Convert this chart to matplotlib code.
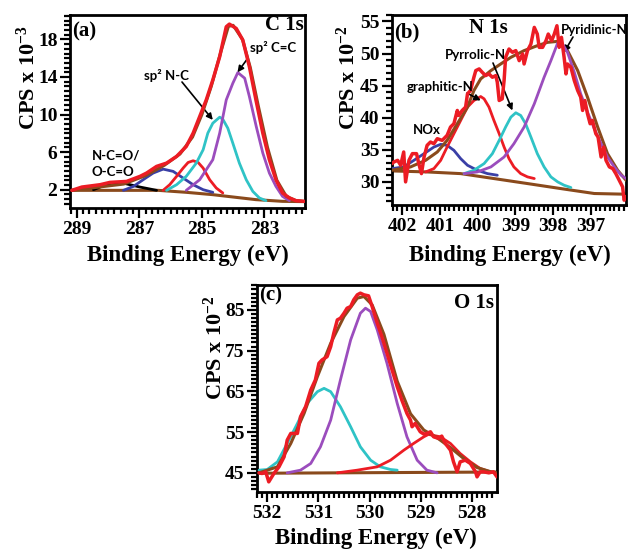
import matplotlib
matplotlib.use('Agg')
import matplotlib.pyplot as plt
import numpy as np
from matplotlib.ticker import FixedLocator, MultipleLocator

plt.rcParams['font.family'] = ['Liberation Serif', 'DejaVu Serif']
plt.rcParams['font.weight'] = 'bold'
plt.rcParams['mathtext.fontset'] = 'custom'
plt.rcParams['mathtext.rm'] = 'Liberation Serif:bold'
plt.rcParams['mathtext.it'] = 'Liberation Serif:bold'
plt.rcParams['mathtext.bf'] = 'Liberation Serif:bold'

RED = '#ec1c24'
PURPLE = '#9b4dbd'
CYAN = '#2fc3c6'
BLUE = '#3a3fa6'
BROWN = '#8a4a1c'
BLACK = '#000000'

# ---------------- Panel (a) C 1s (CPS x 10^-3) ----------------
A_XTICKS = [289, 287, 285, 283]
A_YTICKS = [2, 6, 10, 14, 18]
A_ENV = [(289.16, 1.93), (288.84, 2.28), (288.26, 2.53), (287.94, 2.78), (287.41, 2.88),
         (286.98, 3.42), (286.77, 3.77), (286.45, 4.48), (286.13, 4.83), (285.81, 5.54),
         (285.5, 6.6), (285.28, 8.02), (285.07, 9.79), (284.86, 11.56), (284.65, 13.68),
         (284.43, 16.16), (284.22, 19.35), (284.12, 19.63), (283.9, 19.17), (283.69, 17.93),
         (283.48, 15.1), (283.27, 11.56), (283.05, 8.02), (282.84, 5.19), (282.63, 3.06),
         (282.42, 1.65), (282.2, 1.12), (281.99, 0.83), (281.73, 0.76)]
A_FIT = [(289.16, 1.93), (287.5, 2.6), (286.8, 3.5), (286.2, 4.6), (285.7, 5.8), (285.3, 7.6),
         (285.0, 10.0), (284.7, 13.0), (284.4, 16.6), (284.15, 19.4), (284.0, 19.5),
         (283.7, 18.0), (283.45, 15.0), (283.2, 11.0), (282.9, 6.5), (282.6, 3.0),
         (282.3, 1.3), (282.0, 0.85), (281.73, 0.75)]
A_BASE = [(289.16, 1.93), (286.4, 1.93), (285.5, 1.72), (284.65, 1.47), (284.0, 1.22),
          (283.27, 0.94), (282.42, 0.76), (281.73, 0.73)]
A_CC = [(285.5, 1.93), (285.07, 3.06), (284.65, 5.19), (284.43, 8.02), (284.22, 11.56),
        (284.01, 13.33), (283.85, 14.47), (283.63, 13.87), (283.48, 11.92), (283.26, 8.73),
        (283.05, 5.9), (282.84, 3.77), (282.63, 2.36), (282.42, 1.29), (282.2, 0.83)]
A_NC = [(286.13, 1.93), (285.81, 2.53), (285.5, 3.42), (285.18, 4.83), (284.96, 6.25),
        (284.81, 8.02), (284.65, 9.08), (284.43, 9.72), (284.33, 9.5), (284.17, 8.55),
        (284.01, 6.96), (283.8, 4.83), (283.58, 3.06), (283.37, 1.82), (283.16, 1.12),
        (282.95, 0.83)]
A_CO = [(286.24, 1.93), (286.03, 2.53), (285.81, 3.42), (285.6, 4.3), (285.44, 4.9),
        (285.28, 5.08), (285.12, 4.9), (284.96, 4.3), (284.75, 3.06), (284.54, 2.18),
        (284.33, 1.65)]
A_CN = [(287.51, 1.93), (287.19, 2.35), (286.88, 3.06), (286.56, 3.77), (286.24, 4.19),
        (285.92, 3.95), (285.6, 3.24), (285.28, 2.53), (284.96, 2.0), (284.65, 1.72)]
A_OCO = [(288.47, 2.0), (288.15, 2.42), (287.83, 2.71), (287.62, 2.78), (287.3, 2.53),
         (286.98, 2.28), (286.66, 2.07), (286.45, 1.93)]

# ---------------- Panel (b) N 1s (CPS x 10^-2) ----------------
B_XTICKS = [402, 401, 400, 399, 398, 397]
B_YTICKS = [30, 35, 40, 45, 50, 55]
B_ENV = [(402.27, 32.85), (402.22, 33.1), (402.12, 33.36), (402.04, 32.59), (401.96, 34.66),
         (401.91, 30.0), (401.82, 33.36), (401.73, 34.4), (401.62, 34.4), (401.56, 32.85),
         (401.49, 31.29), (401.42, 33.88), (401.34, 35.69), (401.25, 36.21), (401.16, 35.95),
         (401.07, 36.73), (400.94, 36.47), (400.81, 37.25), (400.72, 38.54), (400.63, 39.06),
         (400.54, 41.13), (400.5, 40.35), (400.41, 41.13), (400.32, 41.65), (400.27, 43.72),
         (400.19, 44.23), (400.1, 46.3), (400.05, 47.34), (399.96, 47.6), (399.88, 47.08),
         (399.79, 46.56), (399.7, 46.82), (399.61, 46.3), (399.52, 46.56), (399.48, 45.53),
         (399.43, 42.68), (399.35, 42.94), (399.3, 45.79), (399.26, 49.41), (399.17, 50.7),
         (399.08, 50.19), (398.99, 50.45), (398.9, 48.89), (398.81, 49.93), (398.77, 48.37),
         (398.68, 50.45), (398.59, 51.48), (398.5, 54.07), (398.42, 53.03), (398.37, 50.96),
         (398.28, 50.96), (398.19, 52.0), (398.13, 53.03), (398.04, 52.0), (397.97, 53.03),
         (397.9, 54.33), (397.84, 50.96), (397.78, 52.52), (397.71, 49.41), (397.66, 46.82),
         (397.62, 48.37), (397.53, 47.86), (397.44, 45.79), (397.35, 44.23), (397.27, 43.2),
         (397.22, 41.13), (397.16, 42.68), (397.09, 40.61), (397.02, 39.06), (396.96, 39.58),
         (396.87, 37.51), (396.81, 36.99), (396.73, 33.88), (396.66, 35.43), (396.6, 33.36),
         (396.51, 32.33), (396.42, 32.07), (396.34, 31.29), (396.25, 30.26), (396.16, 29.22),
         (396.12, 27.15), (396.07, 27.67)]
B_FIT = [(402.27, 31.81), (401.78, 32.33), (401.38, 33.36), (401.07, 34.66), (400.81, 36.47),
         (400.54, 39.06), (400.27, 41.65), (400.1, 44.23), (399.92, 46.05), (399.65, 47.34),
         (399.39, 48.37), (399.12, 49.41), (398.77, 50.45), (398.42, 51.22), (398.15, 51.74),
         (397.88, 51.89), (397.62, 50.45), (397.35, 47.34), (397.09, 43.2), (396.82, 38.54),
         (396.56, 34.4), (396.29, 31.81), (396.07, 30.26)]
B_BASE = [(402.27, 31.71), (401.34, 31.55), (400.45, 31.29), (399.57, 30.52), (398.68, 29.74),
          (397.8, 28.96), (396.91, 28.19), (396.07, 28.08)]
B_PYRIDINIC = [(400.36, 31.29), (400.01, 31.55), (399.65, 32.33), (399.3, 33.88), (399.04, 35.95),
               (398.77, 38.54), (398.5, 42.16), (398.24, 46.3), (398.06, 48.89), (397.88, 51.64),
               (397.75, 51.48), (397.62, 50.19), (397.44, 47.08), (397.27, 43.72), (397.09, 40.87),
               (396.91, 38.28), (396.73, 35.95), (396.56, 33.88), (396.38, 32.33), (396.2, 31.04),
               (396.07, 30.52)]
B_PYRROLIC = [(400.36, 31.29), (400.1, 31.81), (399.83, 32.85), (399.61, 34.4), (399.43, 36.47),
              (399.26, 38.54), (399.12, 40.09), (398.99, 40.77), (398.86, 40.35), (398.73, 39.06),
              (398.59, 36.99), (398.42, 34.4), (398.24, 32.33), (398.06, 30.78), (397.88, 30.0),
              (397.71, 29.48), (397.53, 29.12)]
B_GRAPHITIC = [(401.38, 31.55), (401.16, 32.07), (400.98, 33.36), (400.81, 35.43), (400.63, 37.51),
               (400.45, 39.58), (400.27, 41.65), (400.1, 42.68), (399.92, 43.3), (399.83, 42.94),
               (399.7, 41.65), (399.57, 39.58), (399.43, 37.51), (399.3, 35.43), (399.17, 33.62),
               (399.04, 32.33), (398.86, 31.29), (398.68, 30.78), (398.5, 30.52)]
B_NOX = [(402.27, 32.07), (401.96, 32.33), (401.69, 33.36), (401.42, 34.4), (401.16, 35.43),
         (400.98, 35.85), (400.81, 35.69), (400.63, 34.92), (400.45, 33.62), (400.27, 32.59),
         (400.01, 31.81), (399.74, 31.29), (399.48, 31.04)]

# ---------------- Panel (c) O 1s (CPS x 10^-2) ----------------
C_XTICKS = [532, 531, 530, 529, 528]
C_YTICKS = [45, 55, 65, 75, 85]
C_ENV = [(532.16, 45.0), (532.1, 44.84), (532.03, 45.25), (531.97, 42.79), (531.87, 44.84),
         (531.77, 46.48), (531.67, 48.93), (531.61, 53.03), (531.54, 54.67), (531.41, 54.67),
         (531.35, 58.77), (531.25, 61.23), (531.15, 65.33), (531.06, 67.79), (530.99, 71.89),
         (530.93, 72.7), (530.83, 73.52), (530.76, 75.98), (530.7, 79.26), (530.63, 82.54),
         (530.57, 82.95), (530.5, 84.18), (530.44, 85.41), (530.37, 85.82), (530.31, 87.46),
         (530.24, 88.69), (530.18, 89.1), (530.11, 88.69), (530.02, 88.44), (529.95, 85.82),
         (529.85, 81.72), (529.76, 78.44), (529.66, 74.34), (529.56, 70.25), (529.46, 66.15),
         (529.37, 62.87), (529.27, 59.59), (529.2, 57.95), (529.17, 56.31), (529.11, 57.13),
         (529.01, 55.08), (528.94, 54.51), (528.88, 54.67), (528.81, 55.08), (528.75, 53.85),
         (528.65, 53.44), (528.59, 54.02), (528.52, 52.21), (528.42, 50.57), (528.36, 47.7),
         (528.29, 45.25), (528.23, 47.7), (528.13, 48.11), (528.03, 47.3), (527.93, 45.25),
         (527.9, 44.02), (527.84, 45.25), (527.77, 45.25), (527.67, 45.0), (527.58, 45.25),
         (527.51, 44.02)]
C_FIT = [(532.16, 45.0), (531.8, 46.48), (531.54, 52.21), (531.28, 59.59), (531.02, 68.61),
         (530.76, 76.8), (530.5, 83.36), (530.24, 87.87), (530.11, 88.28), (529.95, 86.23),
         (529.72, 79.0), (529.46, 67.5), (529.2, 59.5), (528.94, 55.5), (528.68, 53.6),
         (528.42, 51.2), (528.16, 48.5), (527.9, 46.3), (527.64, 45.3), (527.51, 45.0)]
C_BASE = [(532.2, 44.9), (527.5, 45.2)]
C_PEAK1 = [(532.16, 45.66), (532.0, 45.82), (531.8, 47.7), (531.61, 52.21), (531.41, 57.13),
           (531.22, 62.05), (531.02, 64.92), (530.89, 65.74), (530.76, 64.92), (530.57, 61.23),
           (530.37, 56.31), (530.18, 51.39), (529.98, 48.11), (529.79, 46.48), (529.59, 45.82),
           (529.46, 45.66)]
C_PEAK2 = [(531.61, 45.0), (531.35, 45.66), (531.15, 47.3), (530.96, 51.39), (530.76, 57.95),
           (530.57, 67.79), (530.37, 77.62), (530.18, 84.18), (530.08, 85.41), (529.98, 84.59),
           (529.85, 80.08), (529.66, 71.89), (529.46, 62.05), (529.27, 53.85), (529.07, 48.11),
           (528.88, 45.66), (528.68, 45.0)]
C_PEAK3 = [(530.63, 45.0), (530.24, 45.66), (529.85, 46.48), (529.59, 48.11), (529.33, 50.57),
           (529.14, 52.21), (528.94, 53.85), (528.85, 54.43), (528.62, 53.85), (528.42, 52.21),
           (528.23, 49.75), (528.03, 47.7), (527.84, 46.07), (527.64, 45.25)]

W, H = 628, 550
fig = plt.figure(figsize=(6.28, 5.5), dpi=100)


def frame(l, t, r, b):
    return [l / W, 1 - b / H, (r - l) / W, (b - t) / H]


def fx(px):
    return px / W


def fy(py):
    return 1 - py / H


def style(ax, xlim, ylim, xt, yt, xminor, yminor):
    ax.set_xlim(*xlim)
    ax.set_ylim(*ylim)
    ax.xaxis.set_major_locator(FixedLocator(xt))
    ax.set_xticklabels([str(v) for v in xt])
    ax.yaxis.set_major_locator(FixedLocator(yt))
    ax.set_yticklabels([str(v) for v in yt])
    ax.xaxis.set_minor_locator(MultipleLocator(xminor))
    ax.yaxis.set_minor_locator(MultipleLocator(yminor))
    ax.tick_params(which='both', direction='out', top=False, right=False, width=1.6,
                   labelsize=14, pad=2)
    ax.tick_params(which='major', length=7)
    ax.tick_params(which='minor', length=4)
    for s in ax.spines.values():
        s.set_linewidth(2)


def line(ax, pts, color, lw, z):
    arr = np.array(pts)
    ax.plot(arr[:, 0], arr[:, 1], color=color, lw=lw, zorder=z,
            solid_joinstyle='round', solid_capstyle='round')


ann_font = dict(family=['Lato', 'DejaVu Sans'], fontweight='bold', fontsize=9.5, color='black')
arrow_kw = dict(arrowstyle='-|>', color='black', lw=1.2, mutation_scale=9,
                shrinkA=0, shrinkB=0)

# Panel (a)
axA = fig.add_axes(frame(70, 15, 305, 208))
style(axA, (289.22, 281.7), (0.05, 20.6), A_XTICKS, A_YTICKS, 0.2, 0.5)
line(axA, A_BASE, BROWN, 2.2, 2)
line(axA, A_OCO, BLACK, 2.0, 3)
line(axA, A_CN, BLUE, 2.0, 3)
line(axA, A_CO, RED, 2.0, 3)
line(axA, A_NC, CYAN, 2.0, 3)
line(axA, A_CC, PURPLE, 2.0, 3)
line(axA, A_FIT, BROWN, 2.2, 4)
line(axA, A_ENV, RED, 2.5, 5)
fig.text(fx(84), fy(31), '(a)', fontsize=15, fontweight='bold', ha='center', va='center')
fig.text(fx(304), fy(25), 'C 1s', fontsize=15, fontweight='bold', ha='right', va='center')
fig.text(fx(273), fy(47), 'sp² C=C', ha='center', va='center', **ann_font)
axA.annotate('', xy=(283.86, 14.5), xycoords='data', xytext=(fx(248), fy(58)),
             textcoords='figure fraction', arrowprops=arrow_kw)
fig.text(fx(166), fy(75), 'sp² N-C', ha='center', va='center', **ann_font)
axA.annotate('', xy=(284.65, 9.43), xycoords='data', xytext=(fx(182), fy(82)),
             textcoords='figure fraction', arrowprops=arrow_kw)
fig.text(fx(92), fy(164), 'N-C=O/\nO-C=O', ha='left', va='center', linespacing=1.5, **ann_font)
fig.text(fx(28), fy(78), 'CPS x 10$^{-3}$', rotation=90, fontsize=16, fontweight='bold',
         ha='center', va='center')
fig.text(fx(188), fy(255), 'Binding Energy (eV)', fontsize=16.5, fontweight='bold',
         ha='center', va='center')

# Panel (b)
axB = fig.add_axes(frame(392, 15, 626, 205))
style(axB, (402.27, 396.07), (26.4, 56.0), B_XTICKS, B_YTICKS, 0.125, 1)
line(axB, B_BASE, BROWN, 2.2, 2)
line(axB, B_NOX, BLUE, 2.0, 3)
line(axB, B_GRAPHITIC, RED, 2.0, 3)
line(axB, B_PYRROLIC, CYAN, 2.0, 3)
line(axB, B_FIT, BROWN, 2.2, 3)
line(axB, B_PYRIDINIC, PURPLE, 2.0, 4)
line(axB, B_ENV, RED, 2.5, 5)
fig.text(fx(407), fy(32), '(b)', fontsize=15, fontweight='bold', ha='center', va='center')
fig.text(fx(488), fy(28), 'N 1s', fontsize=15, fontweight='bold', ha='center', va='center')
fig.text(fx(561), fy(30), 'Pyridinic-N', ha='left', va='center', **ann_font)
axB.annotate('', xy=(397.71, 50.19), xycoords='data', xytext=(fx(573), fy(37)),
             textcoords='figure fraction', arrowprops=arrow_kw)
fig.text(fx(475), fy(55), 'Pyrrolic-N', ha='center', va='center', **ann_font)
axB.annotate('', xy=(399.08, 41.13), xycoords='data', xytext=(fx(493), fy(63)),
             textcoords='figure fraction', arrowprops=arrow_kw)
fig.text(fx(440), fy(87), 'graphitic-N', ha='center', va='center', **ann_font)
axB.annotate('', xy=(399.92, 42.68), xycoords='data', xytext=(fx(467), fy(93)),
             textcoords='figure fraction', arrowprops=arrow_kw)
fig.text(fx(427), fy(130), 'NOx', ha='center', va='center', **ann_font)
fig.text(fx(348), fy(78), 'CPS x 10$^{-2}$', rotation=90, fontsize=16, fontweight='bold',
         ha='center', va='center')
fig.text(fx(510), fy(255), 'Binding Energy (eV)', fontsize=16.5, fontweight='bold',
         ha='center', va='center')

# Panel (c)
axC = fig.add_axes(frame(257, 285, 497, 492))
style(axC, (532.2, 527.51), (40.3, 91.1), C_XTICKS, C_YTICKS, 0.1, 1)
line(axC, C_BASE, BROWN, 2.2, 2)
line(axC, C_PEAK1, CYAN, 2.0, 3)
line(axC, C_PEAK2, PURPLE, 2.0, 3)
line(axC, C_PEAK3, RED, 2.0, 3)
line(axC, C_FIT, BROWN, 2.2, 4)
line(axC, C_ENV, RED, 2.5, 5)
fig.text(fx(271), fy(295), '(c)', fontsize=15, fontweight='bold', ha='center', va='center')
fig.text(fx(494), fy(303), 'O 1s', fontsize=15, fontweight='bold', ha='right', va='center')
fig.text(fx(215), fy(348), 'CPS x 10$^{-2}$', rotation=90, fontsize=16, fontweight='bold',
         ha='center', va='center')
fig.text(fx(376), fy(538), 'Binding Energy (eV)', fontsize=16.5, fontweight='bold',
         ha='center', va='center')

fig.savefig('out.png', dpi=100)
